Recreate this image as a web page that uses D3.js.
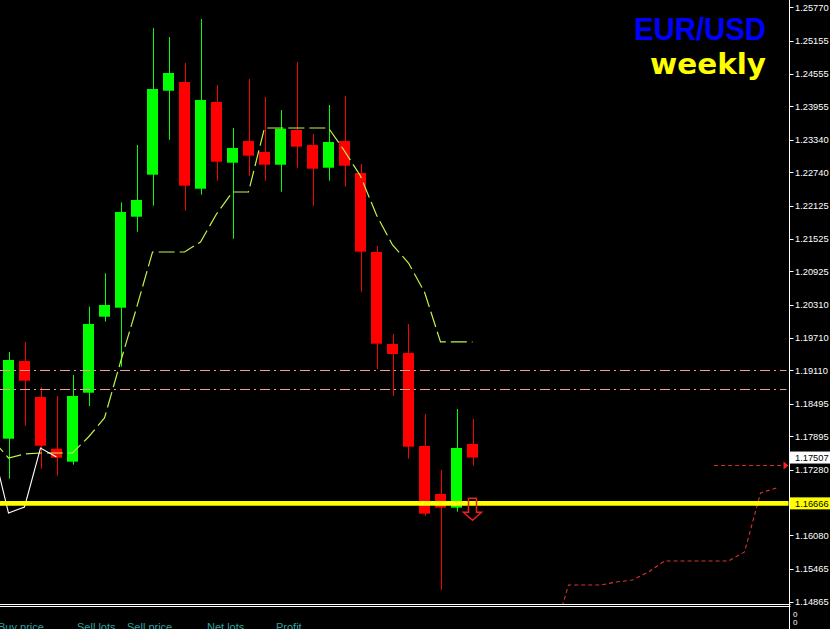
<!DOCTYPE html>
<html><head><meta charset="utf-8">
<script src="https://cdn.jsdelivr.net/npm/d3@7/dist/d3.min.js"></script>
<style>html,body{margin:0;padding:0;background:#000;overflow:hidden}svg{display:block}</style>
</head><body>
<script>
// ---- data ----
const opens  = [1.17853,1.19279,1.18618,1.17669,1.17431,1.18697,1.20092,1.20257,1.21927,1.22698,1.24239,1.24399,1.22441,1.24032,1.22918,1.23316,1.23114,1.22881,1.23518,1.23243,1.22826,1.23316,1.22729,1.21279,1.19591,1.19426,1.17719,1.16838,1.16587,1.17756];
const highs  = [1.19444,1.19628,1.18802,1.18637,1.19022,1.20275,1.20888,1.22191,1.23243,1.25390,1.25225,1.24748,1.25555,1.24344,1.23555,1.24454,1.24124,1.23885,1.24766,1.23445,1.23977,1.24142,1.22894,1.21389,1.19774,1.19958,1.18306,1.17279,1.18398,1.18215];
const lows   = [1.17119,1.18092,1.17302,1.17174,1.17376,1.18453,1.20000,1.19174,1.21652,1.22129,1.23340,1.22037,1.22331,1.22588,1.21523,1.22680,1.22588,1.22386,1.22826,1.22129,1.22588,1.22478,1.20551,1.19132,1.18637,1.17486,1.16440,1.15082,1.16513,1.17357];
const closes = [1.19297,1.18917,1.17724,1.17504,1.18637,1.19958,1.20307,1.22013,1.22234,1.24271,1.24564,1.22496,1.24069,1.22936,1.23188,1.23047,1.22881,1.23542,1.23212,1.22808,1.23298,1.22863,1.21285,1.19596,1.19407,1.17706,1.16477,1.16587,1.17682,1.17507];
const maStart = -1;
const maValues = [1.17829,1.17499,1.17572,1.17590,1.17590,1.17590,1.17884,1.18233,1.19261,1.20252,1.21279,1.21279,1.21279,1.21463,1.21977,1.22380,1.22380,1.23555,1.23555,1.23555,1.23555,1.23555,1.23133,1.22674,1.21958,1.21408,1.21077,1.20545,1.19628,1.19628,1.19628];
const zigStart = -1;
const zigValues = [1.17701,1.16489,1.16600,1.17682,1.17517];
const projStart = 34;
const projValues = [1.14159,1.15168,1.15168,1.15168,1.15223,1.15260,1.15407,1.15608,1.15608,1.15608,1.15608,1.15608,1.15774,1.16856,1.16948];
const levelLines = [1.19106, 1.18757];
const supportLevel = 1.16666;
const targetLevel = 1.17362;
const targetStartIdx = 44.1;
const currentPrice = 1.17507;
const arrowIdx = 29;
const tickLabels = ["1.25770","1.25155","1.24555","1.23955","1.23340","1.22740","1.22125","1.21525","1.20925","1.20310","1.19710","1.19110","1.18495","1.17895","1.17280","1.16080","1.15465","1.14865"];
const titleText = "EUR/USD";
const subtitleText = "weekly";
const panelLabels = [["Buy price",-2],["Sell lots",77],["Sell price",127],["Net lots",207],["Profit",276]];
const subLabels = ["0","0"];

// ---- layout ----
const W = 830, H = 629, axisX = 789.5, chartBottom = 604;
const svg = d3.select("body").append("svg").attr("width", W).attr("height", H);
svg.append("rect").attr("width", W).attr("height", H).attr("fill", "#000");

const x = d3.scaleLinear().domain([0, 29]).range([8.5, 472.5]);
const y = d3.scaleLinear().domain([1.14865, 1.25770]).range([601.5, 7.3]);

svg.append("defs").append("clipPath").attr("id", "clip")
  .append("rect").attr("x", 0).attr("y", 0).attr("width", axisX - 1).attr("height", chartBottom);
const g = svg.append("g").attr("clip-path", "url(#clip)");

const candles = opens.map((o, i) => ({i, o, h: highs[i], l: lows[i], c: closes[i]}));
const col = d => d.c >= d.o ? "#00ff00" : "#ff0000";

// wicks
g.selectAll("line.wick").data(candles).join("line").attr("class", "wick")
  .attr("x1", d => Math.round(x(d.i)) + 0.5).attr("x2", d => Math.round(x(d.i)) + 0.5)
  .attr("y1", d => y(d.h)).attr("y2", d => y(d.l))
  .attr("stroke", col).attr("stroke-width", 1);
// bodies
g.selectAll("rect.body").data(candles).join("rect").attr("class", "body")
  .attr("x", d => x(d.i) - 5.5).attr("width", 11)
  .attr("y", d => y(Math.max(d.o, d.c)))
  .attr("height", d => Math.max(1, Math.abs(y(d.o) - y(d.c))))
  .attr("fill", col);

// level dash-dot lines
g.selectAll("line.lvl").data(levelLines).join("line").attr("class", "lvl")
  .attr("x1", 0).attr("x2", axisX - 3).attr("y1", d => Math.round(y(d)) + 0.5).attr("y2", d => Math.round(y(d)) + 0.5)
  .attr("stroke", "#f0a090").attr("stroke-width", 1).attr("stroke-dasharray", "10,4,2,4");

// MA line
const maLine = d3.line().x((d, i) => x(maStart + i)).y(d => y(d));
g.append("path").attr("d", maLine(maValues)).attr("fill", "none")
  .attr("stroke", "#bff54a").attr("stroke-width", 1.2).attr("stroke-dasharray", "16,5");

// zigzag
const zigLine = d3.line().x((d, i) => x(zigStart + i)).y(d => y(d));
g.append("path").attr("d", zigLine(zigValues)).attr("fill", "none")
  .attr("stroke", "#ffffff").attr("stroke-width", 1.1);

// projection
const projLine = d3.line().x((d, i) => x(projStart + i)).y(d => y(d));
g.append("path").attr("d", projLine(projValues)).attr("fill", "none")
  .attr("stroke", "#d8342e").attr("stroke-width", 1.1).attr("stroke-dasharray", "4,3");

// target dashed line with arrow
const ty = Math.round(y(targetLevel)) + 0.5;
g.append("line").attr("x1", x(targetStartIdx)).attr("x2", axisX - 5).attr("y1", ty).attr("y2", ty)
  .attr("stroke", "#e02a28").attr("stroke-width", 1).attr("stroke-dasharray", "4,3");
g.append("path").attr("d", `M${axisX - 6},${ty - 4} L${axisX - 1},${ty} L${axisX - 6},${ty + 4} Z`).attr("fill", "#ff2020");

// support yellow line
g.append("line").attr("x1", 0).attr("x2", axisX).attr("y1", y(supportLevel)).attr("y2", y(supportLevel))
  .attr("stroke", "#ffff00").attr("stroke-width", 4.7);

// sell arrow (hollow)
const ax = x(arrowIdx), ay = y(supportLevel) - 5;
g.append("path").attr("d",
  `M${ax - 4},${ay} L${ax + 4},${ay} L${ax + 4},${ay + 14} L${ax + 9},${ay + 14} L${ax},${ay + 22} L${ax - 9},${ay + 14} L${ax - 4},${ay + 14} Z`)
  .attr("fill", "none").attr("stroke", "#e82020").attr("stroke-width", 1.5);

// bottom separator
svg.append("line").attr("x1", 0).attr("x2", axisX + 1).attr("y1", 604.5).attr("y2", 604.5).attr("stroke", "#fff");
svg.append("line").attr("x1", 0).attr("x2", axisX + 1).attr("y1", 606.5).attr("y2", 606.5).attr("stroke", "#fff");

// axis
svg.append("line").attr("x1", axisX).attr("x2", axisX).attr("y1", 0).attr("y2", H).attr("stroke", "#fff");
const tickVals = tickLabels.map(Number);
svg.selectAll("line.tick").data(tickVals).join("line").attr("class", "tick")
  .attr("x1", axisX).attr("x2", axisX + 4).attr("y1", d => Math.round(y(d)) + 0.5).attr("y2", d => Math.round(y(d)) + 0.5)
  .attr("stroke", "#fff");
svg.selectAll("text.tl").data(tickLabels).join("text").attr("class", "tl")
  .attr("x", 795).attr("y", d => y(+d)).attr("dy", "0.36em")
  .attr("fill", "#fff").attr("font-family", "'Liberation Sans', Arial, sans-serif").attr("font-size", 9.3)
  .text(d => d);

// current price box
const cy = y(currentPrice);
svg.append("rect").attr("x", axisX + 0.5).attr("y", cy - 6).attr("width", W - axisX).attr("height", 12).attr("fill", "#fff");
svg.append("text").attr("x", 795).attr("y", cy).attr("dy", "0.36em").attr("fill", "#000")
  .attr("font-family", "'Liberation Sans', Arial, sans-serif").attr("font-size", 9.3).text(currentPrice.toFixed(5));
// support box
const sy = y(supportLevel);
svg.append("rect").attr("x", axisX + 0.5).attr("y", sy - 6).attr("width", W - axisX).attr("height", 12).attr("fill", "#ffff00");
svg.append("text").attr("x", 795).attr("y", sy).attr("dy", "0.36em").attr("fill", "#000")
  .attr("font-family", "'Liberation Sans', Arial, sans-serif").attr("font-size", 9.3).text(supportLevel.toFixed(5));

// sub-panel labels
svg.selectAll("text.sub").data(subLabels).join("text").attr("class", "sub")
  .attr("x", 793).attr("y", (d, i) => 616.5 + i * 8)
  .attr("fill", "#fff").attr("font-family", "'Liberation Sans', Arial, sans-serif").attr("font-size", 8).text(d => d);
svg.selectAll("text.pl").data(panelLabels).join("text").attr("class", "pl")
  .attr("x", d => d[1]).attr("y", 631)
  .attr("fill", "#2aa6a0").attr("font-family", "'Liberation Sans', Arial, sans-serif").attr("font-size", 11).text(d => d[0]);

// titles
svg.append("text").attr("x", 634).attr("y", 40).attr("textLength", 132).attr("lengthAdjust", "spacingAndGlyphs")
  .attr("fill", "#0000ff").attr("font-family", "'Liberation Sans', Arial, sans-serif").attr("font-weight", "bold")
  .attr("font-size", 31).text(titleText);
svg.append("text").attr("x", 650).attr("y", 74).attr("textLength", 116).attr("lengthAdjust", "spacingAndGlyphs")
  .attr("fill", "#ffff00").attr("font-family", "'DejaVu Sans', sans-serif").attr("font-weight", "bold")
  .attr("font-size", 29).text(subtitleText);
</script>
</body></html>
